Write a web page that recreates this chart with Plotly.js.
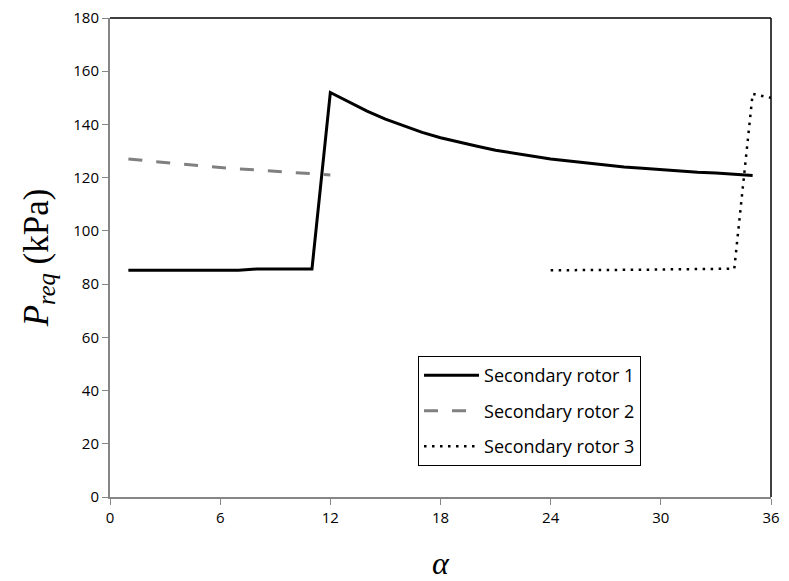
<!DOCTYPE html>
<html>
<head>
<meta charset="utf-8">
<script src="https://cdn.plot.ly/plotly-3.0.1.min.js"></script>
<style>html,body{margin:0;padding:0;background:#fff;}#chart{width:789px;height:581px;}</style>
</head>
<body>
<div id="chart"></div>
<script>
const rotor1X = [1,2,3,4,5,6,7,8,9,10,11,12,13,14,15,16,17,18,19,20,21,22,23,24,25,26,27,28,29,30,31,32,33,34,35];
const rotor1Y = [85.2,85.2,85.2,85.2,85.2,85.2,85.2,85.7,85.7,85.7,85.7,152,148.5,145,142,139.5,137,135,133.3,131.8,130.3,129.2,128,127,126.3,125.5,124.6,124,123.5,123,122.5,122,121.8,121.3,120.8];
const rotor2X = [1,2,3,4,5,6,7,8,9,10,11,12];
const rotor2Y = [127,126.3,125.6,125,124.4,123.8,123.3,122.8,122.3,121.9,121.5,121];
const rotor3X = [24,25,26,27,28,29,30,31,32,33,34,35,36];
const rotor3Y = [85.2,85.2,85.2,85.3,85.3,85.4,85.5,85.6,85.7,85.8,85.8,151.5,150];
const seriesNames = ["Secondary rotor 1","Secondary rotor 2","Secondary rotor 3"];
const xTicks = [0,6,12,18,24,30,36];
const yTicks = [0,20,40,60,80,100,120,140,160,180];

const traces = [
  {x: rotor1X, y: rotor1Y, name: seriesNames[0], mode: "lines", legendgroup: "a",
   line: {color: "#000000", width: 3}},
  {x: rotor2X, y: rotor2Y, name: seriesNames[1], mode: "lines", legendgroup: "b",
   line: {color: "#808080", width: 3, dash: "14px,14px"}},
  {x: rotor3X, y: rotor3Y, name: seriesNames[2], mode: "lines", legendgroup: "c",
   line: {color: "#000000", width: 2.5, dash: "2.5px,5.5px"}}
];

const tickFont = {family: "Open Sans, Noto Sans, sans-serif", size: 15, color: "#000"};
const layout = {
  width: 789, height: 581,
  margin: {l: 110, r: 18, t: 18, b: 84},
  paper_bgcolor: "#fff", plot_bgcolor: "#fff",
  showlegend: true,
  legend: {
    x: 0.466, y: 0.294, xanchor: "left", yanchor: "top",
    bordercolor: "#000", borderwidth: 1, bgcolor: "#fff",
    font: {family: "Open Sans, Noto Sans, sans-serif", size: 18, color: "#000"},
    tracegroupgap: 9, traceorder: "grouped", itemwidth: 55
  },
  xaxis: {
    range: [0, 36], tickvals: xTicks, ticktext: xTicks.map(String),
    showgrid: false, zeroline: false, showline: true, linecolor: "#868686", linewidth: 2,
    ticks: "outside", ticklen: 6, tickcolor: "#868686", tickwidth: 1,
    tickfont: tickFont, mirror: false,
    title: {text: "<i>α</i>", font: {family: "Liberation Serif, Times New Roman, serif", size: 32, color: "#000"}, standoff: 26}
  },
  yaxis: {
    range: [0, 180], tickvals: yTicks, ticktext: yTicks.map(String),
    showgrid: false, zeroline: false, showline: true, linecolor: "#868686", linewidth: 2,
    ticks: "outside", ticklen: 6, tickcolor: "#868686", tickwidth: 1,
    tickfont: tickFont,
    title: {text: "<i>P<sub>req</sub></i> (kPa)", font: {family: "Liberation Serif, Times New Roman, serif", size: 35, color: "#000"}, standoff: 14}
  },
  shapes: [
    {type: "line", xref: "paper", yref: "paper", x0: 0, x1: 1, y0: 1, y1: 1, line: {color: "#000", width: 1.5}},
    {type: "line", xref: "paper", yref: "paper", x0: 1, x1: 1, y0: 0, y1: 1, line: {color: "#000", width: 1.5}}
  ]
};
Plotly.newPlot("chart", traces, layout, {displayModeBar: false, staticPlot: true});
</script>
</body>
</html>
